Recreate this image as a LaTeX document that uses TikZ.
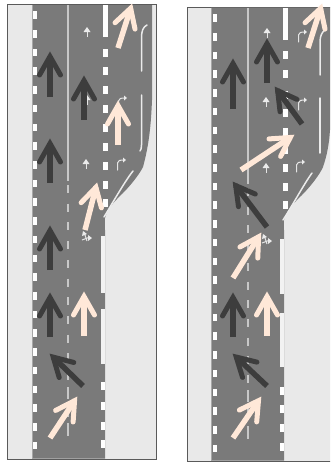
\documentclass[tikz,border=0pt]{standalone}
\definecolor{roadgray}{HTML}{7A7A7A}
\definecolor{verge}{HTML}{E9E9E9}
\definecolor{framegray}{HTML}{5A5A5A}
\definecolor{peach}{HTML}{FFE8D8}
\definecolor{darkarrow}{HTML}{3D3D3D}
\definecolor{dashgray}{HTML}{C8C8C8}
\tikzset{
  panel/.style={draw=framegray,line width=1pt,fill=verge},
  road/.style={fill=roadgray,draw=none},
  edgedash/.style={fill=white,draw=none},
  solidline/.style={draw=white!92!black,line width=1.5pt,line cap=round},
  centreline/.style={draw=dashgray,line width=1.4pt},
  centredash/.style={draw=dashgray,line width=1.4pt},
  edgeline/.style={fill=white!95!black,draw=none},
  tinymark/.style={draw=white!90!black,line width=1pt},
}
\newcommand{\bigarrow}[5]{%
  \pgfmathsetmacro{\arang}{atan2(-(#5-#3),#4-#2)}%
  \pgfmathsetmacro{\arlen}{veclen(#4-#2,#5-#3)}%
  \begin{scope}[shift={(#4,#5)},rotate=\arang]
    \draw[#1,line width=5.5pt] (-\arlen,0) -- (-4,0);
    \draw[#1,line width=5pt,line cap=round,miter limit=10] (-23,10.5) -- (-4.5,0) -- (-23,-10.5);
  \end{scope}}
\newcommand{\upmark}[2]{%
  \draw[tinymark] (#1,#2+5) -- (#1,#2-1);
  \fill[white!92!black] (#1,#2-5) -- (#1+3.5,#2) -- (#1-3.5,#2) -- cycle;}
\newcommand{\turnmark}[2]{%
  \draw[tinymark,line cap=round] (#1-3.5,#2+6) -- (#1-3.5,#2-1) .. controls (#1-3.5,#2-3.5) and (#1-1,#2-4) .. (#1+3,#2-4);
  \fill[white!92!black] (#1+5,#2-4) -- (#1+2,#2-6.5) -- (#1+2,#2-1.5) -- cycle;}
\newcommand{\mixmark}[2]{%
  \draw[tinymark] (#1-4,#2+3) -- (#1+4,#2);
  \draw[tinymark] (#1-2,#2-5) -- (#1+1,#2+4);
  \fill[white!92!black] (#1-3,#2-6) -- (#1+1,#2-3) -- (#1-4,#2-1) -- cycle;
  \fill[white!92!black] (#1+6,#2+1) -- (#1+2,#2-2) -- (#1+2,#2+4) -- cycle;}
\begin{document}
\begin{tikzpicture}[x=1pt,y=-1pt]
\useasboundingbox (0,0) rectangle (330,463);
\fill[white] (0,0) rectangle (330,463);
% ---------- left panel ----------
\draw[panel] (7,4.5) rectangle (156,459);
\path[road] (32,5) -- (152,5) -- (152,100)
  .. controls (151,125) and (149,145) .. (143,167)
  .. controls (139,175) and (130,186) .. (123,193)
  .. controls (116,200) and (108,207) .. (105,218)
  .. controls (104.5,222) and (105,226) .. (105,230)
  -- (105,458.5) -- (32,458.5) -- cycle;
\draw[gray!70,line width=.8pt] (32,5) -- (32,458.5);
\foreach \n in {0,...,23} {
  \pgfmathsetmacro{\yy}{15+18.72*\n}
  \fill[edgedash] (33,\yy-3.8) rectangle (37,\yy+3.8);
}
\draw[centreline] (68,5) -- (68,181);
\foreach \n in {0,...,13} {
  \pgfmathsetmacro{\yy}{189+18.7*\n}
  \draw[centredash] (68,\yy-4) -- (68,\yy+4);
}
\draw[centredash] (68,387) -- (68,395);
\draw[centredash] (68,405) -- (68,413);
\draw[centredash] (68,423) -- (68,431);
\fill[edgedash] (103,5) rectangle (108,37);
\foreach \yy in {52.5,71,90,109,127.5,146.5,165.5,184.5,203} {
  \fill[edgedash] (103,\yy-4) rectangle (108,\yy+4);
}
\draw[solidline] (141.5,71) -- (141.5,38) .. controls (141.5,31) and (143,27) .. (147,25);
\draw[solidline] (141.5,95) -- (141.5,145) .. controls (141.5,148) and (141,150) .. (140,151);
\draw[solidline] (133,171) .. controls (125,181) and (112,204) .. (104,217);
\fill[edgeline] (101,236) rectangle (105,293);
\fill[edgeline] (101,309) rectangle (105,364);
\foreach \yy in {386,406,426,444} {
  \fill[edgedash] (101,\yy-4) rectangle (104.5,\yy+4);
}
\upmark{87}{32}
\upmark{87}{100}
\upmark{86}{164}
\turnmark{121}{164}
\turnmark{122}{102}
\mixmark{86}{237}
\bigarrow{peach}{118}{48}{132}{4}
\bigarrow{darkarrow}{50}{97}{50}{52}
\bigarrow{darkarrow}{84}{120}{84}{76}
\bigarrow{peach}{118}{145}{118}{101}
\bigarrow{darkarrow}{50}{183}{50}{139}
\bigarrow{peach}{85}{230}{97}{183}
\bigarrow{darkarrow}{50}{270}{50}{226}
\bigarrow{darkarrow}{50}{337}{50}{293}
\bigarrow{peach}{84}{336}{84}{292}
\bigarrow{darkarrow}{83}{386}{50}{354}
\bigarrow{peach}{50}{438}{77}{397}
% ---------- right panel ----------
\begin{scope}
\clip (180,0) rectangle (330,463);
\draw[panel] (187,7) rectangle (340,461);
\path[road] (211,7.5) -- (332,7.5) -- (332,130) -- (330,130)
  .. controls (329,145) and (327,155) .. (323,167)
  .. controls (320,174) and (311,186) .. (302,195)
  .. controls (295,202) and (287,209) .. (284,220)
  .. controls (283.7,224) and (284,227) .. (284,230)
  -- (284,460.5) -- (211,460.5) -- cycle;
\draw[gray!70,line width=.8pt] (211,7.5) -- (211,460.5);
\foreach \n in {0,...,23} {
  \pgfmathsetmacro{\yy}{18+18.72*\n}
  \fill[edgedash] (213,\yy-3.8) rectangle (217,\yy+3.8);
}
\draw[centreline] (248,8) -- (248,184);
\foreach \n in {0,...,13} {
  \pgfmathsetmacro{\yy}{192+18.7*\n}
  \draw[centredash] (248,\yy-4) -- (248,\yy+4);
}
\draw[centredash] (248,390) -- (248,398);
\draw[centredash] (248,408) -- (248,416);
\draw[centredash] (248,426) -- (248,434);
\fill[edgedash] (282.5,8) rectangle (288,40);
\foreach \yy in {55,73.5,94.5,113,131.5,150,168,186.5,205} {
  \fill[edgedash] (282.5,\yy-4) rectangle (288,\yy+4);
}
\draw[solidline] (320,75) -- (320,42) .. controls (320,36) and (322,32) .. (325,30);
\draw[solidline] (320,98) -- (320,153);
\draw[solidline] (312,173) .. controls (304,184) and (291,208) .. (283,220);
\fill[edgeline] (280,239) rectangle (284,294);
\fill[edgeline] (280,313) rectangle (284,367);
\foreach \yy in {391,409,428,447} {
  \fill[edgedash] (280,\yy-4) rectangle (283.5,\yy+4);
}
\upmark{267}{33}
\upmark{266}{102}
\upmark{266}{168}
\turnmark{302}{36}
\turnmark{302}{104}
\turnmark{300}{166}
\mixmark{266}{240}
\bigarrow{peach}{308}{48}{322}{4}
\bigarrow{darkarrow}{233}{109}{233}{59}
\bigarrow{darkarrow}{267}{83}{267}{39}
\bigarrow{darkarrow}{302}{124}{275}{87}
\bigarrow{peach}{241}{170}{294}{135}
\bigarrow{darkarrow}{267}{227}{233}{182}
\bigarrow{peach}{233}{278}{261}{233}
\bigarrow{darkarrow}{233}{337}{233}{293}
\bigarrow{peach}{267}{336}{267}{292}
\bigarrow{darkarrow}{267}{386}{233}{354}
\bigarrow{peach}{233}{438}{261}{397}
\end{scope}
\end{tikzpicture}
\end{document}
